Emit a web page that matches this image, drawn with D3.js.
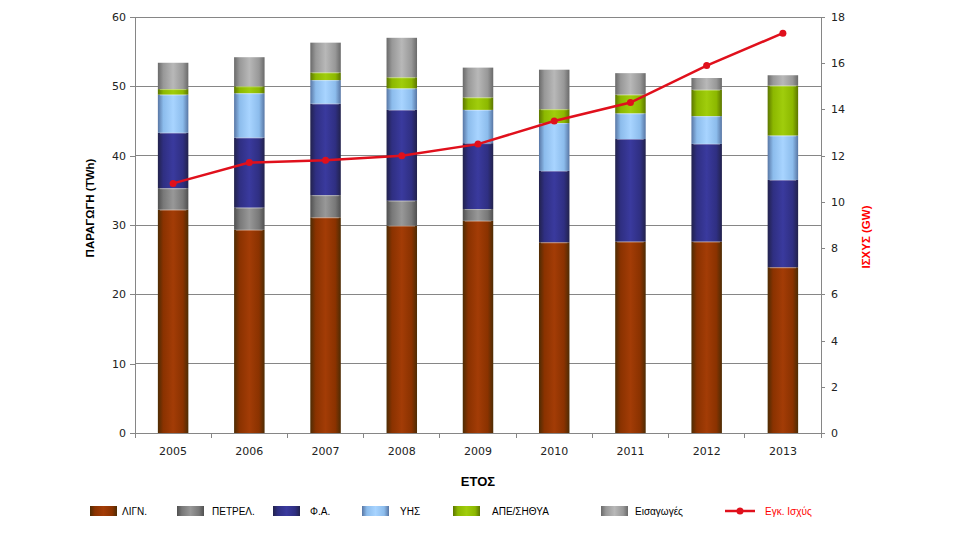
<!DOCTYPE html>
<html>
<head>
<meta charset="utf-8">
<script src="https://cdn.jsdelivr.net/npm/d3@7"></script>
<style>
  html, body { margin: 0; padding: 0; background: #fff; }
  svg { display: block; }
</style>
</head>
<body>
<svg id="chart" width="973" height="539"></svg>
<script>
// ---------- DATA ----------
const years = ["2005", "2006", "2007", "2008", "2009", "2010", "2011", "2012", "2013"];
const lignite   = [32.2, 29.3, 31.1, 29.9, 30.6, 27.5, 27.6, 27.6, 23.9];
const petroleum = [3.1, 3.2, 3.2, 3.6, 1.7, 0.0, 0.0, 0.0, 0.0];
const naturalGas = [8.0, 10.1, 13.2, 13.1, 9.5, 10.3, 14.8, 14.1, 12.6];
const hydro     = [5.5, 6.4, 3.4, 3.1, 4.8, 6.9, 3.7, 4.0, 6.4];
const renewables = [0.8, 1.0, 1.1, 1.6, 1.8, 2.0, 2.7, 3.8, 7.2];
const imports   = [3.8, 4.2, 4.3, 5.7, 4.3, 5.7, 3.1, 1.7, 1.5];
const capacity  = [10.8, 11.7, 11.8, 12.0, 12.5, 13.5, 14.3, 15.9, 17.3];

const seriesNames = ["ΛΙΓΝ.", "ΠΕΤΡΕΛ.", "Φ.Α.", "ΥΗΣ", "ΑΠΕ/ΣΗΘΥΑ", "Εισαγωγές"];
const lineName = "Εγκ. Ισχύς";
const leftTicks = [0, 10, 20, 30, 40, 50, 60];
const rightTicks = [0, 2, 4, 6, 8, 10, 12, 14, 16, 18];

// ---------- STYLE ----------
const gradStops = [
  ["#4d2c04", "#8a3200", "#a33c06", "#8a3200", "#4d2c04"],
  ["#505050", "#787878", "#989898", "#787878", "#505050"],
  ["#22224c", "#2f2f82", "#3a3a9e", "#2f2f82", "#22224c"],
  ["#5876a4", "#8cbcec", "#a8d4ff", "#8cbcec", "#5876a4"],
  ["#5c7600", "#8cb800", "#a0cd0c", "#8cb800", "#5c7600"],
  ["#6a6a6a", "#989898", "#b8b8b8", "#989898", "#6a6a6a"]
];
const stopOffsets = [0, 0.18, 0.5, 0.82, 1];
const lineColor = "#e0101c";

const svg = d3.select("#chart");
const L = 135, R = 821, T = 17, B = 433;

// gradients
const defs = svg.append("defs");
gradStops.forEach((stops, i) => {
  const g = defs.append("linearGradient").attr("id", "g" + i)
    .attr("x1", "0%").attr("x2", "100%").attr("y1", "0%").attr("y2", "0%");
  stops.forEach((c, j) => g.append("stop").attr("offset", stopOffsets[j]).attr("stop-color", c));
});

// scales
const x = d3.scaleBand().domain(years).range([L, R]).paddingInner(0.6).paddingOuter(0.3);
const y = d3.scaleLinear().domain([0, 60]).range([B, T]);
const y2 = d3.scaleLinear().domain([0, 18]).range([B, T]);

// gridlines
svg.append("g").selectAll("line").data(leftTicks.filter(d => d > 0)).join("line")
  .attr("x1", L).attr("x2", R).attr("y1", d => y(d)).attr("y2", d => y(d))
  .attr("stroke", "#868686").attr("stroke-width", 1).attr("shape-rendering", "crispEdges");

// stacked data
const table = years.map((yr, i) => ({
  year: yr, s0: lignite[i], s1: petroleum[i], s2: naturalGas[i],
  s3: hydro[i], s4: renewables[i], s5: imports[i]
}));
const keys = ["s0", "s1", "s2", "s3", "s4", "s5"];
const stacked = d3.stack().keys(keys)(table);

svg.append("g").selectAll("g").data(stacked).join("g")
  .attr("fill", (d, i) => `url(#g${i})`)
  .selectAll("rect").data(d => d).join("rect")
  .attr("x", d => x(d.data.year))
  .attr("width", x.bandwidth())
  .attr("y", d => y(d[1]))
  .attr("height", d => Math.max(0, y(d[0]) - y(d[1])));

// thin highlight lines at segment tops
svg.append("g").selectAll("g").data(stacked.slice(0, 5)).join("g")
  .selectAll("line").data(d => d.filter(v => v[1] - v[0] > 0)).join("line")
  .attr("x1", d => x(d.data.year) + 2).attr("x2", d => x(d.data.year) + x.bandwidth() - 2)
  .attr("y1", d => y(d[1]) + 0.5).attr("y2", d => y(d[1]) + 0.5)
  .attr("stroke", "rgba(255,255,255,0.35)").attr("stroke-width", 1);

// axes
const axisColor = "#868686";
const fontTick = "'DejaVu Sans', Verdana, sans-serif";

// left axis
const gl = svg.append("g").attr("transform", `translate(${L},0)`)
  .call(d3.axisLeft(y).tickValues(leftTicks).tickSize(5).tickPadding(4));
// bottom axis
const gb = svg.append("g").attr("transform", `translate(0,${B})`)
  .call(d3.axisBottom(x).tickSize(0).tickPadding(14));
// right axis
const gr = svg.append("g").attr("transform", `translate(${R},0)`)
  .call(d3.axisRight(y2).tickValues(rightTicks).tickSize(4).tickPadding(6));

[gl, gb, gr].forEach(g => {
  g.selectAll(".domain").attr("stroke", axisColor).attr("shape-rendering", "crispEdges");
  g.selectAll(".tick line").attr("stroke", axisColor).attr("shape-rendering", "crispEdges");
  g.selectAll("text").attr("fill", "#222").style("font-family", fontTick).style("font-size", "11px");
});
gl.select(".domain").attr("d", `M0,${T}V${B}`);
gr.select(".domain").attr("d", `M0,${T}V${B}`);
gb.select(".domain").attr("d", `M${L},0H${R}`);

// x boundary ticks
const step = x.step();
const bounds = d3.range(years.length + 1).map(i => L + i * step);
svg.append("g").selectAll("line").data(bounds).join("line")
  .attr("x1", d => d).attr("x2", d => d).attr("y1", B).attr("y2", B + 5)
  .attr("stroke", axisColor).attr("shape-rendering", "crispEdges");

// line series
const pts = years.map((yr, i) => [x(yr) + x.bandwidth() / 2, y2(capacity[i])]);
svg.append("path").datum(pts)
  .attr("d", d3.line())
  .attr("fill", "none").attr("stroke", lineColor).attr("stroke-width", 2.5);
svg.append("g").selectAll("circle").data(pts).join("circle")
  .attr("cx", d => d[0]).attr("cy", d => d[1]).attr("r", 3.5).attr("fill", lineColor);

// axis titles
const titleFont = "'Liberation Sans', Arial, sans-serif";
svg.append("text").attr("transform", "translate(94,208) rotate(-90)")
  .attr("text-anchor", "middle").style("font-family", titleFont)
  .style("font-weight", "bold").style("font-size", "11.5px").attr("fill", "#000")
  .text("ΠΑΡΑΓΩΓΗ (TWh)");
svg.append("text").attr("transform", "translate(870,237) rotate(-90)")
  .attr("text-anchor", "middle").style("font-family", titleFont)
  .style("font-weight", "bold").style("font-size", "11.5px").attr("fill", "#ff0000")
  .text("ΙΣΧΥΣ (GW)");
svg.append("text").attr("x", 478).attr("y", 486)
  .attr("text-anchor", "middle").style("font-family", titleFont)
  .style("font-weight", "bold").style("font-size", "13px").attr("fill", "#000")
  .text("ΕΤΟΣ");

// legend
const legendY = 511;
const swatchX = [90, 177, 273, 362, 453, 601];
const textX = [122, 212, 310, 400, 492, 635];
const leg = svg.append("g");
seriesNames.forEach((name, i) => {
  leg.append("rect").attr("x", swatchX[i]).attr("y", legendY - 5).attr("width", 27).attr("height", 10)
    .attr("fill", `url(#g${i})`);
  leg.append("text").attr("x", textX[i]).attr("y", legendY + 4)
    .style("font-family", titleFont).style("font-size", "10px").attr("fill", "#000").text(name);
});
leg.append("line").attr("x1", 725).attr("x2", 755).attr("y1", legendY).attr("y2", legendY)
  .attr("stroke", lineColor).attr("stroke-width", 2.5);
leg.append("circle").attr("cx", 740).attr("cy", legendY).attr("r", 3.5).attr("fill", lineColor);
leg.append("text").attr("x", 765).attr("y", legendY + 4)
  .style("font-family", titleFont).style("font-size", "10px").attr("fill", "#ff0000").text(lineName);
</script>
</body>
</html>
